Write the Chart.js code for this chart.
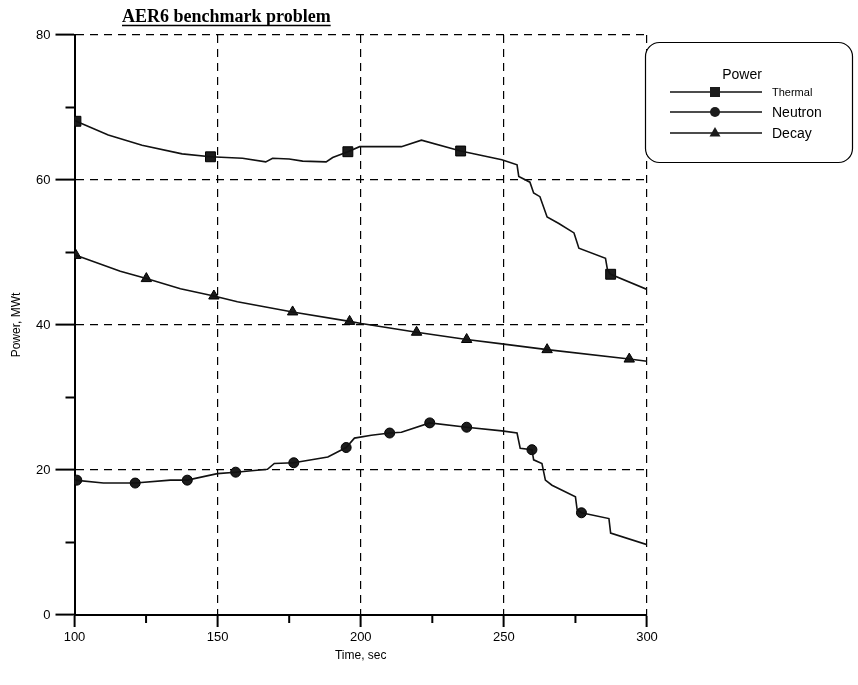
<!DOCTYPE html>
<html>
<head>
<meta charset="utf-8">
<script src="https://cdn.jsdelivr.net/npm/chart.js@4/dist/chart.umd.min.js"></script>
<style>
  body { margin: 0; background: #fff; }
  #wrap { width: 858px; height: 685px; }
</style>
</head>
<body>
<div id="wrap"><canvas id="graph" width="858" height="685"></canvas></div>
<script>
// values (time in sec, power in MWt)
const thermalTime = [100, 111.8, 123.6, 137.6, 147.5, 158.7, 166.8, 169.2, 175, 179.7, 187.9, 190.2, 195.5, 199.6, 214.2, 221.2, 234.9, 249.3, 254.6, 255.2, 259.1, 260.4, 262.6, 265.1, 269.2, 274.5, 276.2, 285.5, 286.2, 287.3, 300];
const thermalPower = [68.2, 66.2, 64.8, 63.6, 63.2, 63.0, 62.5, 63.0, 62.9, 62.6, 62.5, 63.1, 63.9, 64.6, 64.6, 65.5, 64.0, 62.8, 62.1, 60.5, 59.7, 58.2, 57.7, 54.9, 54.0, 52.7, 50.6, 49.2, 47.6, 47.0, 44.9];
const thermalMarkTime = [100.5, 147.5, 195.5, 234.9, 287.3];
const thermalMarkPower = [68.1, 63.2, 63.9, 64.0, 47.0];

const neutronTime = [100, 110.1, 121.2, 133.5, 139.4, 149.9, 156.3, 167.4, 169.8, 176.6, 188.5, 194.9, 197.8, 203.7, 210.1, 214.2, 224.1, 237.0, 249.3, 254.6, 255.7, 259.8, 260.4, 263.3, 264.5, 266.8, 275.0, 275.6, 277.1, 286.7, 287.3, 300];
const neutronPower = [18.6, 18.2, 18.2, 18.6, 18.6, 19.5, 19.7, 20.1, 20.9, 21.0, 21.8, 23.1, 24.4, 24.8, 25.1, 25.2, 26.5, 25.9, 25.4, 25.1, 23.0, 22.8, 21.4, 20.9, 18.6, 17.9, 16.3, 14.5, 14.1, 13.3, 11.3, 9.7];
const neutronMarkTime = [100.8, 121.2, 139.4, 156.3, 176.6, 194.9, 210.1, 224.1, 237.0, 259.8, 277.1];
const neutronMarkPower = [18.6, 18.2, 18.6, 19.7, 21.0, 23.1, 25.1, 26.5, 25.9, 22.8, 14.1];

const decayTime = [100, 116, 125.1, 137, 148.7, 156.9, 176.2, 196.1, 200.2, 219.5, 237.0, 249.3, 265.1, 293.8, 300];
const decayPower = [49.7, 47.4, 46.4, 45.0, 44.0, 43.2, 41.8, 40.5, 40.2, 39.0, 38.0, 37.4, 36.6, 35.3, 35.0];
const decayMarkTime = [100.5, 125.1, 148.7, 176.2, 196.1, 219.5, 237.0, 265.1, 293.8];
const decayMarkPower = [49.6, 46.4, 44.0, 41.8, 40.5, 39.0, 38.0, 36.6, 35.3];

const timeTicks = [100, 150, 200, 250, 300];
const powerTicks = [0, 20, 40, 60, 80];
const timeMinor = [125, 175, 225, 275];
const powerMinor = [10, 30, 50, 70];

const seriesNames = ['Thermal', 'Neutron', 'Decay'];
const chartTitle = 'AER6 benchmark problem';
const legendTitle = 'Power';

function pairs(xs, ys) {
  return xs.map(function (x, i) { return { x: x, y: ys[i] }; });
}

function lineSet(label, xs, ys) {
  return {
    label: label,
    data: pairs(xs, ys),
    borderColor: '#111',
    borderWidth: 1.6,
    pointRadius: 0,
    fill: false,
    tension: 0,
  };
}

function markSet(label, xs, ys, style, radius) {
  return {
    label: label + ' marks',
    data: pairs(xs, ys),
    showLine: false,
    pointStyle: style,
    pointRadius: radius,
    pointBackgroundColor: '#1c1c1c',
    pointBorderColor: '#000',
    pointBorderWidth: 1,
  };
}

function drawMark(ctx, style, x, y) {
  ctx.fillStyle = '#1c1c1c';
  ctx.beginPath();
  if (style === 'rect') {
    ctx.rect(x - 5, y - 5, 10, 10);
  } else if (style === 'circle') {
    ctx.arc(x, y, 5, 0, Math.PI * 2);
  } else {
    ctx.moveTo(x, y - 6);
    ctx.lineTo(x + 5.5, y + 3.5);
    ctx.lineTo(x - 5.5, y + 3.5);
    ctx.closePath();
  }
  ctx.fill();
}

const extras = {
  id: 'extras',
  afterDraw: function (chart) {
    const ctx = chart.ctx;
    const xs = chart.scales.x;
    const ys = chart.scales.y;
    ctx.save();

    // minor ticks
    ctx.strokeStyle = '#000';
    ctx.lineWidth = 2;
    timeMinor.forEach(function (t) {
      const px = xs.getPixelForValue(t);
      ctx.beginPath();
      ctx.moveTo(px, ys.bottom);
      ctx.lineTo(px, ys.bottom + 8);
      ctx.stroke();
    });
    powerMinor.forEach(function (p) {
      const py = ys.getPixelForValue(p);
      ctx.beginPath();
      ctx.moveTo(xs.left, py);
      ctx.lineTo(xs.left - 9, py);
      ctx.stroke();
    });

    // title, underlined
    ctx.fillStyle = '#000';
    ctx.font = 'bold 18px "Liberation Serif", serif';
    ctx.textBaseline = 'alphabetic';
    ctx.textAlign = 'left';
    ctx.fillText(chartTitle, 122, 22);
    const w = ctx.measureText(chartTitle).width;
    ctx.lineWidth = 1.3;
    ctx.beginPath();
    ctx.moveTo(122, 25.5);
    ctx.lineTo(122 + w, 25.5);
    ctx.stroke();

    // legend box
    ctx.lineWidth = 1.2;
    ctx.beginPath();
    ctx.roundRect(645.5, 42.5, 207, 120, 14);
    ctx.fillStyle = '#fff';
    ctx.fill();
    ctx.stroke();

    ctx.fillStyle = '#000';
    ctx.font = '14px "Liberation Sans", Arial, sans-serif';
    ctx.textAlign = 'center';
    ctx.textBaseline = 'middle';
    ctx.fillText(legendTitle, 742, 75);

    const rows = [92, 112, 133];
    const styles = ['rect', 'circle', 'triangle'];
    const sizes = [11, 14, 14];
    seriesNames.forEach(function (name, i) {
      ctx.strokeStyle = '#111';
      ctx.lineWidth = 1.3;
      ctx.beginPath();
      ctx.moveTo(670, rows[i]);
      ctx.lineTo(762, rows[i]);
      ctx.stroke();
      drawMark(ctx, styles[i], 715, rows[i]);
      ctx.fillStyle = '#000';
      ctx.font = sizes[i] + 'px "Liberation Sans", Arial, sans-serif';
      ctx.textAlign = 'left';
      ctx.fillText(name, 772, rows[i] + 1);
    });
    ctx.restore();
  },
};

const tickFont = { family: '"Liberation Sans", Arial, sans-serif', size: 13 };
const titleFont = { family: '"Liberation Sans", Arial, sans-serif', size: 12 };

const config = {
  type: 'line',
  data: {
    datasets: [
      lineSet(seriesNames[0], thermalTime, thermalPower),
      lineSet(seriesNames[1], neutronTime, neutronPower),
      lineSet(seriesNames[2], decayTime, decayPower),
      markSet(seriesNames[0], thermalMarkTime, thermalMarkPower, 'rect', 7),
      markSet(seriesNames[1], neutronMarkTime, neutronMarkPower, 'circle', 5),
      markSet(seriesNames[2], decayMarkTime, decayMarkPower, 'triangle', 6),
    ],
  },
  options: {
    responsive: false,
    animation: false,
    layout: { padding: { top: 35, right: 211, bottom: 0, left: 0 } },
    plugins: {
      legend: { display: false },
      tooltip: { enabled: false },
    },
    scales: {
      x: {
        type: 'linear',
        min: 100,
        max: 300,
        afterBuildTicks: function (scale) {
          scale.ticks = timeTicks.map(function (v) { return { value: v }; });
        },
        afterFit: function (scale) { scale.height = 70; },
        ticks: { color: '#000', font: tickFont, padding: 3, maxRotation: 0 },
        grid: {
          color: '#000',
          lineWidth: 1.2,
          tickLength: 12,
          tickColor: '#000',
          tickWidth: 2,
          tickBorderDash: [],
        },
        border: { display: true, color: '#000', width: 2, dash: [8, 6] },
        title: {
          display: true,
          text: 'Time, sec',
          color: '#000',
          font: titleFont,
          padding: { top: 0, bottom: 22 },
        },
      },
      y: {
        type: 'linear',
        min: 0,
        max: 80,
        afterBuildTicks: function (scale) {
          scale.ticks = powerTicks.map(function (v) { return { value: v }; });
        },
        afterFit: function (scale) { scale.width = 74.5; },
        ticks: { color: '#000', font: tickFont, padding: 5 },
        grid: {
          color: '#000',
          lineWidth: 1.2,
          tickLength: 19,
          tickColor: '#000',
          tickWidth: 2,
          tickBorderDash: [],
        },
        border: { display: true, color: '#000', width: 2, dash: [8, 6] },
        title: {
          display: true,
          text: 'Power, MWt',
          color: '#000',
          font: titleFont,
          padding: { top: 9, bottom: 0 },
        },
      },
    },
  },
  plugins: [extras],
};

const myChart = new Chart(document.getElementById('graph').getContext('2d'), config);
</script>
</body>
</html>
